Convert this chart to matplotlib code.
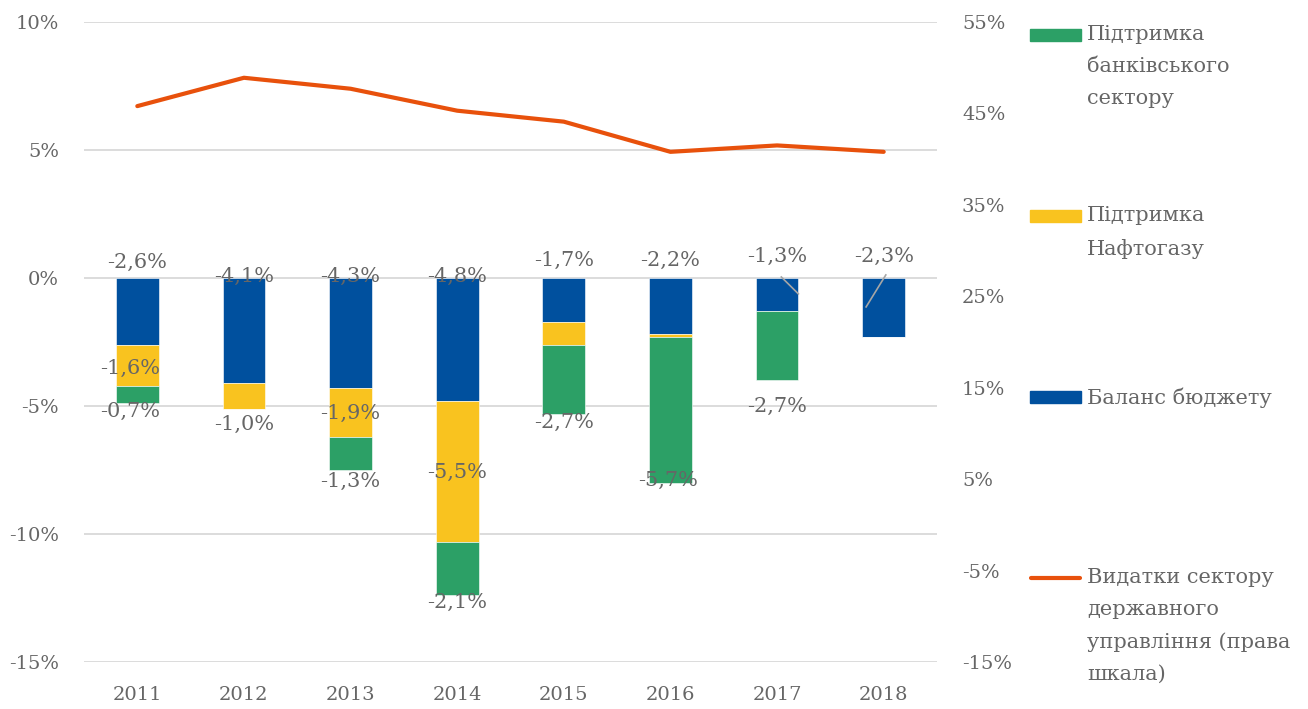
import numpy as np
import matplotlib.pyplot as plt
from matplotlib.patches import Rectangle
from matplotlib.lines import Line2D

plt.rcParams['font.family'] = ['DejaVu Serif']

# --- data ---
years = ['2011', '2012', '2013', '2014', '2015', '2016', '2017', '2018']
budget_balance = [-2.6, -4.1, -4.3, -4.8, -1.7, -2.2, -1.3, -2.3]
naftogaz = [-1.6, -1.0, -1.9, -5.5, -0.9, -0.1, 0.0, 0.0]
banks = [-0.7, 0.0, -1.3, -2.1, -2.7, -5.7, -2.7, 0.0]
spending = [45.8, 48.9, 47.7, 45.3, 44.1, 40.8, 41.5, 40.8]

# labels shown in the chart (None = no label)
lbl_budget = ['-2,6%', '-4,1%', '-4,3%', '-4,8%', '-1,7%', '-2,2%', '-1,3%', '-2,3%']
lbl_naftogaz = ['-1,6%', '-1,0%', '-1,9%', '-5,5%', None, None, None, None]
lbl_banks = ['-0,7%', None, '-1,3%', '-2,1%', '-2,7%', '-5,7%', '-2,7%', None]

# label placement (y in left-axis units)
pos_budget = [0.62, 0.08, 0.08, 0.08, 0.7, 0.7, 0.86, 0.86]
pos_naftogaz = [-3.52, -5.7, -5.27, -7.58, None, None, None, None]
pos_banks = [-5.23, None, -7.93, -12.66, -5.66, -7.89, -5.0, None]
xoff_naftogaz = [-0.07, 0, 0, 0, 0, 0, 0, 0]
xoff_banks = [-0.07, 0, 0, 0, 0, -0.02, 0, 0]

c_blue = '#00509E'
c_yellow = '#F9C31F'
c_green = '#2CA066'
c_orange = '#E8510C'
c_text = '#666666'
c_grid = '#D9D9D9'

fig = plt.figure(figsize=(13.08, 7.09), dpi=100)
ax = fig.add_axes([84 / 1308, 1 - 662 / 709, (937 - 84) / 1308, 640 / 709])
ax2 = ax.twinx()

x = np.arange(len(years))
w = 0.4
b1 = np.array(budget_balance)
b2 = np.array(naftogaz)
b3 = np.array(banks)
ax.bar(x, b1, w, color=c_blue, edgecolor='white', linewidth=0.4, zorder=3)
ax.bar(x, b2, w, bottom=b1, color=c_yellow, edgecolor='white', linewidth=0.4, zorder=3)
ax.bar(x, b3, w, bottom=b1 + b2, color=c_green, edgecolor='white', linewidth=0.4, zorder=3)

ax.set_ylim(-15, 10)
ax.set_xlim(-0.5, len(years) - 0.5)
ax.set_yticks([-15, -10, -5, 0, 5, 10])
ax.set_yticklabels(['-15%', '-10%', '-5%', '0%', '5%', '10%'])
ax.set_xticks(x)
ax.set_xticklabels(years)
ax.yaxis.grid(True, color=c_grid, linewidth=1.3)
ax.set_axisbelow(True)
for s in ax.spines.values():
    s.set_visible(False)
for s in ax2.spines.values():
    s.set_visible(False)
ax.tick_params(axis='both', length=0, labelsize=14, colors=c_text)
ax.tick_params(axis='y', pad=18)
ax.tick_params(axis='x', pad=17)

ax2.plot(x, spending, color=c_orange, linewidth=3, solid_capstyle='round', zorder=4)
ax2.set_ylim(-15, 55)
ax2.set_yticks([-15, -5, 5, 15, 25, 35, 45, 55])
ax2.set_yticklabels(['-15%', '-5%', '5%', '15%', '25%', '35%', '45%', '55%'])
ax2.tick_params(axis='y', length=0, labelsize=14, colors=c_text, pad=18)

tkw = dict(ha='center', va='center', fontsize=15, color=c_text, zorder=5)
for i in range(len(years)):
    ax.text(x[i], pos_budget[i], lbl_budget[i], **tkw)
    if lbl_naftogaz[i]:
        ax.text(x[i] + xoff_naftogaz[i], pos_naftogaz[i], lbl_naftogaz[i], **tkw)
    if lbl_banks[i]:
        ax.text(x[i] + xoff_banks[i], pos_banks[i], lbl_banks[i], **tkw)

# leader lines for 2017 and 2018 labels
ax.plot([6.04, 6.20], [0.04, -0.62], color='#A6A6A6', linewidth=1.2, zorder=5)
ax.plot([7.02, 6.835], [0.12, -1.13], color='#A6A6A6', linewidth=1.2, zorder=5)

# legend
H = 709
entries = [
    ('patch', c_green, 'Підтримка\nбанківського\nсектору', 35),
    ('patch', c_yellow, 'Підтримка\nНафтогазу', 216),
    ('patch', c_blue, 'Баланс бюджету', 397),
    ('line', c_orange, 'Видатки сектору\nдержавного\nуправління (права\nшкала)', 578),
]
for kind, col, text, yp in entries:
    if kind == 'patch':
        fig.add_artist(Rectangle((1030 / 1308, 1 - (yp + 6) / H), 51 / 1308, 12 / H,
                                 transform=fig.transFigure, color=col))
    else:
        fig.add_artist(Line2D([1031 / 1308, 1080 / 1308], [1 - yp / H, 1 - yp / H],
                              transform=fig.transFigure, color=col, linewidth=3,
                              solid_capstyle='round'))
    fig.text(1087 / 1308, 1 - (yp - 10) / H, text, ha='left', va='top', fontsize=15,
             color=c_text, linespacing=1.85)

fig.savefig('out.png', dpi=100)
